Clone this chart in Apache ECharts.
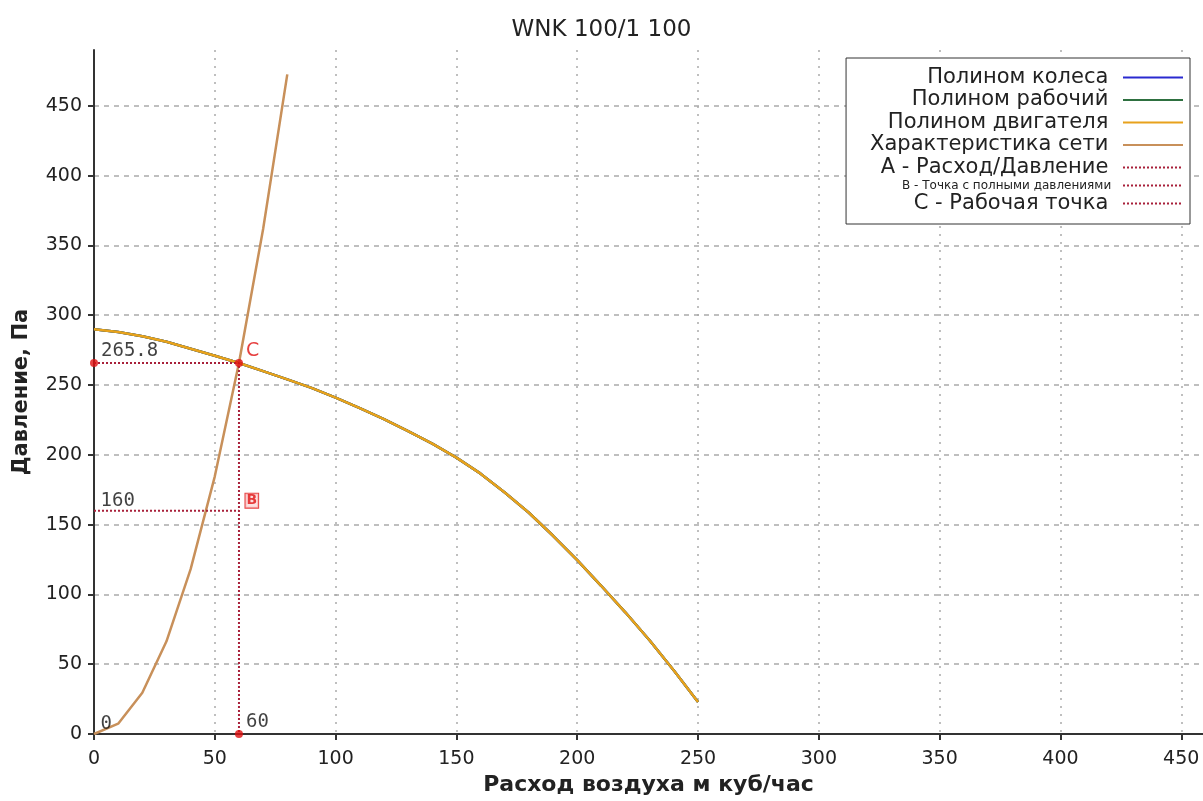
<!DOCTYPE html>
<html>
<head>
<meta charset="utf-8">
<script src="https://cdn.jsdelivr.net/npm/echarts@6/dist/echarts.min.js"></script>
<style>
  html, body { margin: 0; padding: 0; background: #fff; }
  #chart { width: 1203px; height: 801px; }
</style>
</head>
<body>
<div id="chart"></div>
<script>
  // расход (м куб/час) / давление (Па)
  var fanX = [0, 10, 20, 30, 40, 50, 60, 70, 80, 90, 100, 110, 120, 130, 140, 150, 160, 170, 180, 190, 200, 210, 220, 230, 240, 250];
  var fanY = [290, 288, 285, 281, 276, 271, 265.8, 260, 254, 248, 241, 233.5, 225.5, 217, 208, 198, 186.5, 173, 158.5, 142, 124.5, 106, 87, 67, 45.5, 23];
  var netX = [0, 10, 20, 30, 40, 50, 60, 70, 80];
  var netY = [0, 7.4, 29.5, 66.4, 118.1, 184.6, 265.8, 361.8, 472.5];

  var lineA = [[0, 265.8], [60, 265.8], [60, 0]];
  var lineB = [[0, 160], [60, 160]];
  var lineC = [[60, 265.8]];

  var dotX = [0, 60, 60];
  var dotY = [265.8, 0, 265.8];
  var dotLabels = ['265.8', '60', 'C'];
  var tagX = [0, 0, 60];
  var tagY = [160, 0, 160];
  var tagLabels = ['160', '0', 'B'];

  var legendNames = ['Полином колеса', 'Полином рабочий', 'Полином двигателя', 'Характеристика сети',
    'A - Расход/Давление', 'B - Точка с полными давлениями', 'C - Рабочая точка'];

  var font = 'DejaVu Sans';
  var monoFont = 'DejaVu Sans Mono';
  var dotRed = '#a8203a';

  function zip(xs, ys) {
    return xs.map(function (x, i) { return [x, ys[i]]; });
  }

  function curve(name, color, xs, ys) {
    return {
      name: name,
      type: 'line',
      symbol: 'none',
      smooth: false,
      data: zip(xs, ys),
      lineStyle: { color: color, width: 2.5 },
      itemStyle: { color: color }
    };
  }

  function dotted(name, data) {
    return {
      name: name,
      type: 'line',
      symbol: 'none',
      data: data,
      lineStyle: { color: dotRed, width: 2, type: [2, 2] },
      itemStyle: { color: dotRed },
      z: 3
    };
  }

  var chart = echarts.init(document.getElementById('chart'));
  chart.setOption({
    animation: false,
    backgroundColor: '#fff',
    title: {
      text: 'WNK 100/1 100',
      left: 'center',
      top: 14,
      textStyle: { fontFamily: font, fontSize: 23, fontWeight: 'normal', color: '#222' }
    },
    legend: {
      orient: 'vertical',
      right: 13,
      top: 58,
      align: 'right',
      selectedMode: false,
      backgroundColor: '#fff',
      borderColor: '#333',
      borderWidth: 1,
      padding: [9, 6, 10, 24],
      itemWidth: 60,
      itemHeight: 14,
      itemGap: 1.5,
      itemStyle: { opacity: 0 },
      formatter: function (n) { return n + ' '; },
      textStyle: { fontFamily: font, fontSize: 21, padding: [0, 3, 0, 0], color: '#222' },
      data: legendNames.map(function (n, i) {
        return i === 5 ? { name: n, textStyle: { fontSize: 12 } } : { name: n };
      })
    },
    grid: { left: 94, right: 0, top: 50, bottom: 65 },
    xAxis: {
      type: 'value',
      min: 0,
      max: 459,
      interval: 50,
      name: 'Расход воздуха м куб/час',
      nameLocation: 'middle',
      nameGap: 40,
      nameTextStyle: { fontFamily: font, fontSize: 22, fontWeight: 'bold', color: '#222' },
      axisLine: { lineStyle: { color: '#333', width: 2 } },
      axisTick: { length: 6, lineStyle: { color: '#333', width: 2 } },
      axisLabel: { fontFamily: font, fontSize: 19, color: '#222', margin: 16, showMaxLabel: false },
      splitLine: { show: true, showMaxLine: false, lineStyle: { color: '#aaa', width: 1.5, type: [2, 6] } }
    },
    yAxis: {
      type: 'value',
      min: 0,
      max: 490,
      interval: 50,
      name: 'Давление, Па',
      nameLocation: 'middle',
      nameGap: 62,
      nameTextStyle: { fontFamily: font, fontSize: 21, fontWeight: 'bold', color: '#222' },
      axisLine: { show: true, lineStyle: { color: '#333', width: 2 } },
      axisTick: { show: true, length: 6, lineStyle: { color: '#333', width: 2 } },
      axisLabel: { fontFamily: font, fontSize: 19, color: '#222', margin: 12, showMaxLabel: false },
      splitLine: { show: true, showMaxLine: false, lineStyle: { color: '#aaa', width: 1.5, type: [5, 5] } }
    },
    series: [
      curve(legendNames[0], '#2a2ad0', fanX, fanY),
      curve(legendNames[1], '#2e7040', fanX, fanY),
      curve(legendNames[2], '#e8a21c', fanX, fanY),
      curve(legendNames[3], '#c8905a', netX, netY),
      dotted(legendNames[4], lineA),
      dotted(legendNames[5], lineB),
      dotted(legendNames[6], lineC),
      {
        type: 'scatter',
        symbolSize: 8,
        itemStyle: { color: '#e01010' },
        z: 5,
        data: dotX.map(function (x, i) {
          var red = dotLabels[i] === 'C';
          return {
            value: [x, dotY[i]],
            label: {
              show: true,
              formatter: dotLabels[i],
              position: 'right',
              distance: 3,
              offset: [0, -12],
              fontFamily: red ? font : monoFont,
              fontSize: 19,
              color: red ? '#e01010' : '#111'
            }
          };
        })
      },
      {
        type: 'scatter',
        symbolSize: 1,
        itemStyle: { color: 'rgba(0,0,0,0)' },
        z: 5,
        data: tagX.map(function (x, i) {
          var red = tagLabels[i] === 'B';
          return {
            value: [x, tagY[i]],
            label: {
              show: true,
              formatter: tagLabels[i],
              position: 'right',
              distance: 6,
              offset: [0, -10],
              fontFamily: red ? font : monoFont,
              fontSize: red ? 14 : 19,
              fontWeight: red ? 'bold' : 'normal',
              color: red ? '#e01010' : '#111',
              backgroundColor: red ? '#fbd8d8' : 'transparent',
              borderColor: red ? '#e01010' : 'transparent',
              borderWidth: red ? 1 : 0,
              padding: red ? [0, 1] : 0
            }
          };
        })
      }
    ]
  });
</script>
</body>
</html>
